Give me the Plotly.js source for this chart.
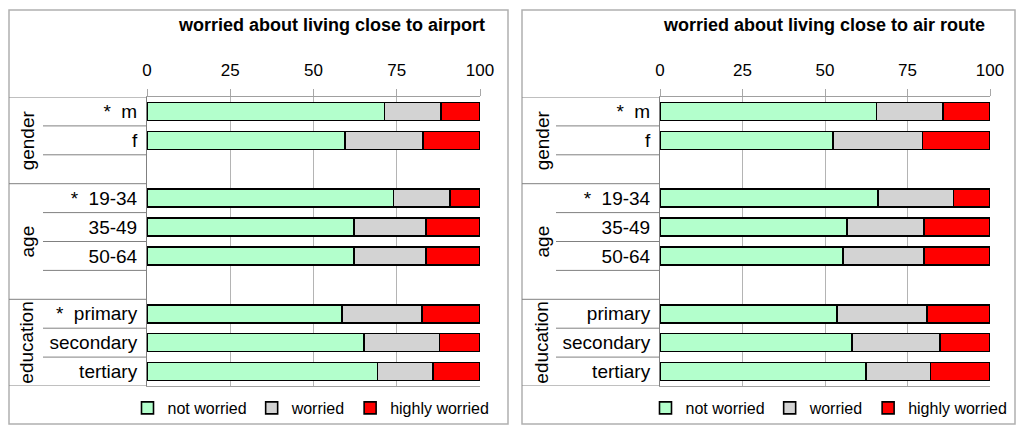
<!DOCTYPE html>
<html>
<head>
<meta charset="utf-8">
<script src="https://cdn.plot.ly/plotly-3.0.1.min.js"></script>
<style>
  html, body { margin: 0; padding: 0; background: white; }
  #chart { width: 1024px; height: 433px; }
</style>
</head>
<body>
<div id="chart"></div>
<script>
// Worry about living close to airport / air route, by gender, age and education

const categories = ['m', 'f', '19-34', '35-49', '50-64', 'primary', 'secondary', 'tertiary'];
const categoryGroup = ['gender', 'gender', 'age', 'age', 'age', 'education', 'education', 'education'];

const seriesNames = ['not worried', 'worried', 'highly worried'];
const seriesColors = ['#b3ffcc', '#d3d3d3', '#ff0000'];
const xTicks = [0, 25, 50, 75, 100];

// left chart: airport
const airportNot = [71.3, 59.5, 74.0, 62.2, 62.2, 58.6, 65.1, 69.2];
const airportWorried = [16.9, 23.3, 17.0, 21.6, 21.6, 24.0, 22.7, 16.6];
const airportHigh = [11.8, 17.2, 9.0, 16.2, 16.2, 17.4, 12.2, 14.2];
const airportStar = [true, false, true, false, false, true, false, false];

// right chart: air route
const routeNot = [65.6, 52.5, 66.0, 56.6, 55.4, 53.7, 58.2, 62.4];
const routeWorried = [20.2, 27.1, 22.9, 23.4, 24.6, 27.2, 26.7, 19.6];
const routeHigh = [14.2, 20.4, 11.1, 20.0, 20.0, 19.1, 15.1, 18.0];
const routeStar = [true, false, true, false, false, false, false, false];

const W = 1024, H = 433;
const px = x => x / W;
const py = y => 1 - y / H;

// rows: categories with a blank spacer row after each group except the last
const rows = [];
const groupSpans = [];
let curGroup = null;
categories.forEach((c, i) => {
    if (categoryGroup[i] !== curGroup) {
        if (curGroup !== null) rows.push('gap-' + curGroup);
        curGroup = categoryGroup[i];
        groupSpans.push({name: curGroup, start: rows.length});
    }
    rows.push(c);
});
groupSpans.forEach((g, i) => {
    g.end = i < groupSpans.length - 1 ? groupSpans[i + 1].start - 1 : rows.length - 1;
});

const panels = [
    {
        title: 'worried about living close to airport',
        values: [airportNot, airportWorried, airportHigh], star: airportStar,
        xa: 'x', ya: 'y', legend: 'legend',
        plotL: 147, plotR: 480, frameL: 9, frameR: 508, lineL: 43, groupX: 27, titleR: 487, legendX: 311
    },
    {
        title: 'worried about living close to air route',
        values: [routeNot, routeWorried, routeHigh], star: routeStar,
        xa: 'x2', ya: 'y2', legend: 'legend2',
        plotL: 660, plotR: 990, frameL: 522, frameR: 1015, lineL: 556, groupX: 542, titleR: 987, legendX: 829
    }
];
const plotTop = 97, plotBottom = 386;
const frameTop = 10, frameBottom = 424;

const font = 'Liberation Sans, Arial, sans-serif';
const data = [];
const shapes = [];
const annotations = [];
const layout = {
    width: W, height: H,
    margin: {l: 0, r: 0, t: 0, b: 0},
    barmode: 'stack',
    bargap: 0.38,
    paper_bgcolor: 'white',
    plot_bgcolor: 'white',
    font: {family: font, size: 17, color: '#000'},
    showlegend: true
};

panels.forEach((p, pi) => {
    p.values.forEach((vals, si) => {
        data.push({
            type: 'bar',
            orientation: 'h',
            x: vals,
            y: categories,
            name: seriesNames[si],
            xaxis: p.xa,
            yaxis: p.ya,
            legend: p.legend,
            marker: {color: seriesColors[si], line: {color: '#000', width: 1.6}},
            hoverinfo: 'x+y+name'
        });
    });

    const sfx = pi === 0 ? '' : '2';
    const tickText = rows.map(r => {
        const ci = categories.indexOf(r);
        if (ci < 0) return '';
        return (p.star[ci] ? '*\u00a0\u00a0' : '') + r;
    });

    layout['xaxis' + sfx] = {
        domain: [px(p.plotL), px(p.plotR)],
        anchor: 'y' + sfx,
        side: 'top',
        range: [0, 100],
        tickvals: xTicks,
        ticks: 'outside',
        ticklen: 7,
        tickcolor: '#a8a8a8',
        ticklabelstandoff: 6,
        tickfont: {size: 17},
        showgrid: true,
        gridcolor: '#b4b4b4',
        gridwidth: 1,
        zeroline: false,
        showline: true,
        mirror: true,
        linecolor: '#a0a0a0',
        linewidth: 1,
        fixedrange: true
    };
    layout['yaxis' + sfx] = {
        domain: [py(plotBottom), py(plotTop)],
        anchor: 'x' + sfx,
        type: 'category',
        categoryorder: 'array',
        categoryarray: rows,
        range: [rows.length - 0.5, -0.5],
        tickmode: 'array',
        tickvals: rows,
        ticktext: tickText,
        ticks: '',
        ticklabelstandoff: 5,
        tickfont: {size: 19},
        showgrid: false,
        zeroline: false,
        showline: true,
        linecolor: '#808080',
        linewidth: 1,
        fixedrange: true
    };

    // panel frame
    shapes.push({
        type: 'rect', xref: 'paper', yref: 'paper',
        x0: px(p.frameL), x1: px(p.frameR), y0: py(frameBottom), y1: py(frameTop),
        line: {color: '#b0b0b0', width: 1.5}
    });

    // row separators in the label area
    const groupEdges = new Set();
    groupSpans.forEach(g => { groupEdges.add(g.start - 0.5); groupEdges.add(g.end + 0.5); });
    for (let k = 0; k <= rows.length; k++) {
        const yv = k - 0.5;
        const full = groupEdges.has(yv);
        shapes.push({
            type: 'line', xref: 'paper', yref: 'y' + sfx,
            x0: px(full ? p.frameL : p.lineL), x1: px(p.plotL),
            y0: yv, y1: yv,
            line: {color: '#808080', width: 1}
        });
    }

    // group labels
    groupSpans.forEach(g => {
        annotations.push({
            xref: 'paper', yref: 'y' + sfx,
            x: px(p.groupX), y: (g.start + g.end) / 2,
            text: g.name, textangle: -90, showarrow: false,
            xanchor: 'center', yanchor: 'middle',
            font: {size: 19, color: '#000'}
        });
    });

    // chart title
    annotations.push({
        xref: 'paper', yref: 'paper',
        x: px(p.titleR), y: py(25),
        text: '<b>' + p.title + '</b>', showarrow: false,
        xanchor: 'right', yanchor: 'middle',
        font: {size: 18, color: '#000'}
    });

    layout[p.legend] = {
        orientation: 'h',
        x: px(p.legendX), xanchor: 'center',
        y: py(408), yanchor: 'middle',
        font: {size: 16, color: '#000'},
        itemwidth: 30,
        traceorder: 'normal',
        bgcolor: 'rgba(0,0,0,0)'
    };
});

layout.shapes = shapes;
layout.annotations = annotations;

Plotly.newPlot('chart', data, layout, {displayModeBar: false, responsive: false});
</script>
</body>
</html>
